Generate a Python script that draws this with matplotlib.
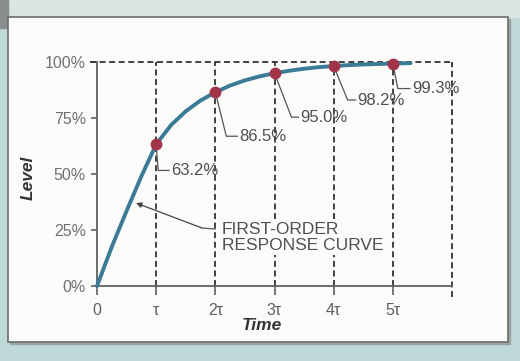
import matplotlib.pyplot as plt
from matplotlib.patches import Rectangle

plt.rcParams['font.family'] = ['Liberation Sans', 'DejaVu Sans']

# Curve (time in units of tau, level in %)
curve_t = [0, 0.25, 0.5, 0.75, 1.0, 1.25, 1.5, 1.75, 2.0, 2.25, 2.5, 2.75, 3.0,
           3.25, 3.5, 3.75, 4.0, 4.25, 4.5, 4.75, 5.0, 5.3]
curve_level = [0, 17.5, 33.5, 49, 63.2, 71.8, 78.0, 82.8, 86.5, 89.5, 91.8, 93.6, 95.0,
               96.1, 97.0, 97.7, 98.2, 98.6, 98.9, 99.1, 99.3, 99.5]

# Marked points
point_t = [1, 2, 3, 4, 5]
point_level = [63.2, 86.5, 95.0, 98.2, 99.3]
point_labels = ['63.2%', '86.5%', '95.0%', '98.2%', '99.3%']

# Axis ticks
x_ticks = [0, 1, 2, 3, 4, 5]
x_ticklabels = ['0', 'τ', '2τ', '3τ', '4τ', '5τ']
y_ticks = [0, 25, 50, 75, 100]
y_ticklabels = ['0%', '25%', '50%', '75%', '100%']

W, H = 520, 361
fig = plt.figure(figsize=(W / 100, H / 100), dpi=100)

# background / page in pixel coordinates
bg = fig.add_axes([0, 0, 1, 1])
bg.set_xlim(0, W)
bg.set_ylim(H, 0)
bg.axis('off')
bg.add_patch(Rectangle((0, 0), W, H, color='#bfd8d8', zorder=0))
bg.add_patch(Rectangle((0, 0), W, 17, color='#d9e4e3', zorder=0))
bg.add_patch(Rectangle((0, 0), 8, 28, color='#8a8d8d', zorder=1))
bg.add_patch(Rectangle((10, 19), 500, 325, color='#9aa3a3', zorder=1))
bg.add_patch(Rectangle((8, 17), 500, 325, facecolor='#fbfbf9',
                       edgecolor='#6a6d6d', lw=1.2, zorder=2))

# data axes: x 0..6 tau -> px 97..452, y 0..100 -> px 286..62
ax = fig.add_axes([97 / W, 1 - 286 / H, 355 / W, 224 / H])
ax.set_xlim(0, 6)
ax.set_ylim(0, 100)
ax.patch.set_visible(False)
ax.set_zorder(3)
for s in ['top', 'right']:
    ax.spines[s].set_visible(False)
for s in ['left', 'bottom']:
    ax.spines[s].set_color('#606060')
    ax.spines[s].set_linewidth(1.3)

ax.set_xticks(x_ticks)
ax.set_xticklabels(x_ticklabels)
ax.set_yticks(y_ticks)
ax.set_yticklabels(y_ticklabels)
ax.tick_params(axis='x', direction='out', length=6.5, width=1.2, color='#606060',
               pad=6, labelsize=11.5, labelcolor='#606060')
ax.tick_params(axis='y', direction='out', length=4.5, width=1.2, color='#606060',
               pad=3.5, labelsize=11.5, labelcolor='#707070')

dash = dict(color='#333333', lw=1.3, dashes=(3.3, 2.0), clip_on=False, zorder=2)
ax.plot([-0.12, 6], [100, 100], **dash)
for t in point_t:
    ax.plot([t, t], [0, 100], **dash)
ax.plot([6, 6], [-5, 100], **dash)

ax.plot(curve_t, curve_level, color='#3b7b96', lw=2.8, solid_capstyle='round',
        clip_on=False, zorder=4)
ax.plot(point_t, point_level, 'o', color='#a2344a', ms=7.5, clip_on=False, zorder=5)

# leader lines: (elbow dx, dy, end dx) in pixels from the point, y down
leaders = [(2, 26, 13), (11, 44, 22), (17, 44, 24), (14, 34, 22), (5, 25, 17)]
inv = ax.transData.inverted()
for t, v, lab, (ex, ey, hx) in zip(point_t, point_level, point_labels, leaders):
    px, py = ax.transData.transform((t, v))
    pts = inv.transform([(px, py), (px + ex, py - ey), (px + hx, py - ey)])
    ax.plot(pts[:, 0], pts[:, 1], color='#555555', lw=0.9, clip_on=False, zorder=4)
    tx, ty = inv.transform((px + hx + 2, py - ey))
    ax.text(tx, ty, lab, ha='left', va='center', fontsize=12, color='#505050', zorder=6)

# curve callout
bg.plot([215, 202], [229, 228], color='#555555', lw=0.9, zorder=5)
bg.annotate('', xy=(136, 203), xytext=(202, 228),
            arrowprops=dict(arrowstyle='-|>', color='#444444', lw=0.9,
                            mutation_scale=8, shrinkA=0, shrinkB=0), zorder=5)
ax.text(222 / W, 1 - 237.5 / H, 'FIRST-ORDER\nRESPONSE CURVE', transform=fig.transFigure,
        ha='left', va='center', fontsize=12.5, color='#505050', linespacing=1.02,
        zorder=6, bbox=dict(facecolor='#fbfbf9', edgecolor='none', pad=1.5))

bg.text(262, 326, 'Time', ha='center', va='center', fontsize=12.5,
        fontweight='bold', fontstyle='italic', color='#333333', zorder=5)
bg.text(28, 178, 'Level', ha='center', va='center', rotation=90, fontsize=12.5,
        fontweight='bold', fontstyle='italic', color='#333333', zorder=5)

fig.savefig('out.png', dpi=100)
